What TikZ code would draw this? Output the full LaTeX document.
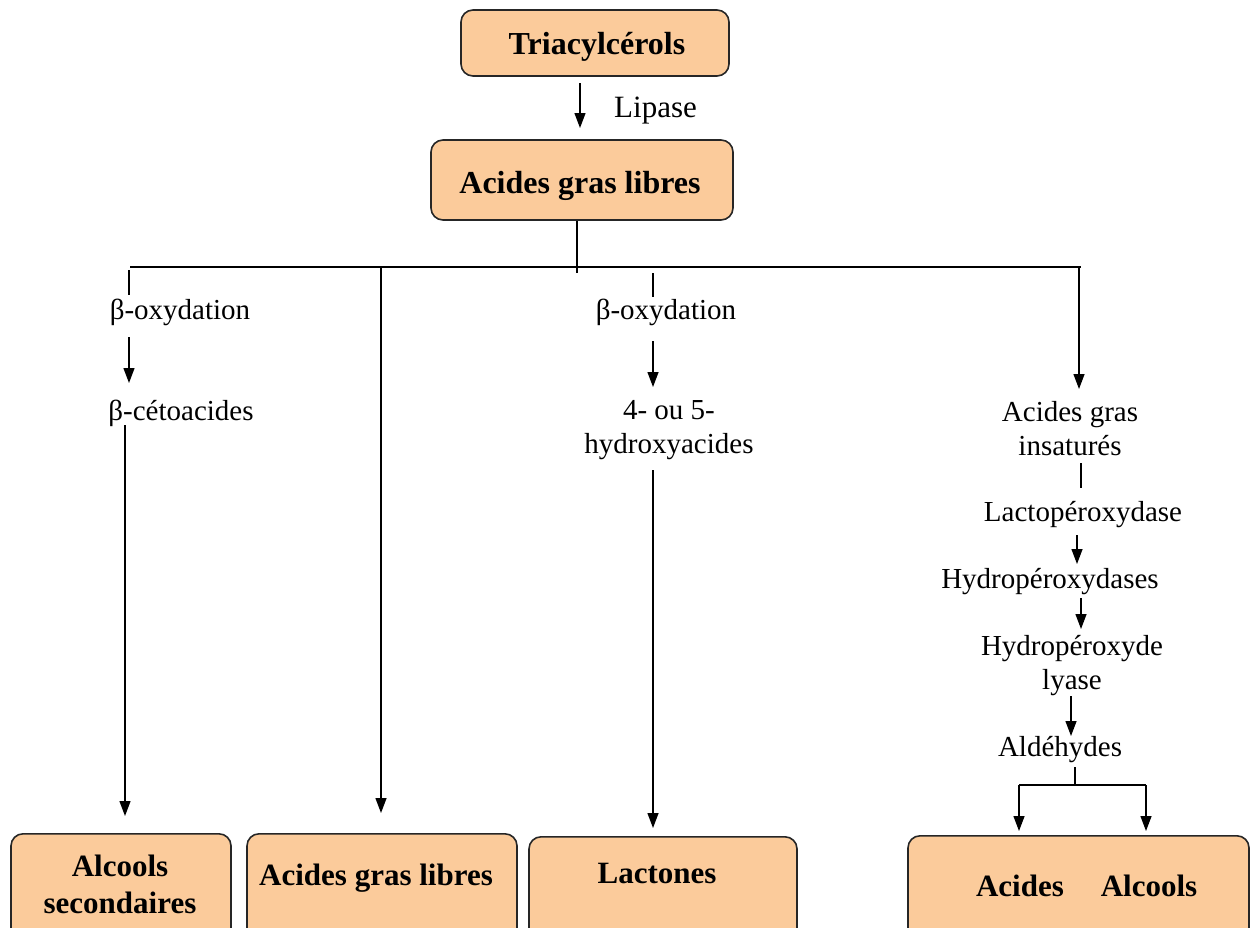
\documentclass[tikz,border=0pt]{standalone}
\usepackage{fontspec}
\setmainfont{Liberation Serif}
\usetikzlibrary{arrows.meta}
\definecolor{boxfill}{HTML}{FBCB9B}
\begin{document}
\begin{tikzpicture}[x=1pt,y=-1pt,
  box/.style={draw=black!85, line width=1.6pt, fill=boxfill, rounded corners=12pt, inner sep=0pt},
  lbl/.style={font=\fontsize{29}{34}\selectfont, inner sep=0pt, align=center},
  bl/.style={font=\fontsize{31}{37}\selectfont\bfseries, inner sep=0pt, align=center},
  ln/.style={line width=1.3pt},
  arr/.style={ln, -{Triangle[width=11pt,length=15pt]}}]
\clip (0,0) rectangle (1252,927);
% top boxes
\node[box, minimum width=268pt, minimum height=66pt] (tri) at (595,43) {};
\node[bl, font=\fontsize{32}{37}\selectfont\bfseries] (tritxt) at (597,47) {Triacylcérols};
\node[box, minimum width=302pt, minimum height=80pt] (agl) at (582,180) {};
\node[bl, font=\fontsize{32}{37}\selectfont\bfseries] (agltxt) at (580,186) {Acides gras libres};
\coordinate (lipA) at (580,83);
\coordinate (lipB) at (580,128);
\draw[arr] (lipA) -- (lipB);
\node[lbl, font=\fontsize{31}{36}\selectfont, anchor=west] (lip) at (614,111) {Lipase};
% trunk
\coordinate (trA) at (577,221);
\coordinate (trB) at (577,273);
\draw[ln] (trA) -- (trB);
\coordinate (hL) at (130,267);
\coordinate (hR) at (1081,267);
\draw[ln] (hL) -- (hR);
% branch 1
\coordinate (b1a) at (129,270);
\coordinate (b1b) at (129,295);
\draw[ln] (b1a) -- (b1b);
\node[lbl] (box1) at (180,312) {β-oxydation};
\coordinate (b1c) at (129,337);
\coordinate (b1d) at (129,383);
\draw[arr] (b1c) -- (b1d);
\node[lbl] (ceto) at (181,413) {β-cétoacides};
\coordinate (b1e) at (125,425);
\coordinate (b1f) at (125,816);
\draw[arr] (b1e) -- (b1f);
% branch 2
\coordinate (b2a) at (381,267);
\coordinate (b2b) at (381,813);
\draw[arr] (b2a) -- (b2b);
% branch 3
\coordinate (b3a) at (653,273);
\coordinate (b3b) at (653,297);
\draw[ln] (b3a) -- (b3b);
\node[lbl] (box3) at (666,312) {β-oxydation};
\coordinate (b3c) at (653,341);
\coordinate (b3d) at (653,387);
\draw[arr] (b3c) -- (b3d);
\node[lbl] (hydx) at (669,430) {4- ou 5-\\hydroxyacides};
\coordinate (b3e) at (653,470);
\coordinate (b3f) at (653,828);
\draw[arr] (b3e) -- (b3f);
% branch 4
\coordinate (b4a) at (1079,267);
\coordinate (b4b) at (1079,389);
\draw[arr] (b4a) -- (b4b);
\node[lbl] (agi) at (1070,429) {Acides gras\\insaturés};
\coordinate (b4c) at (1081,463);
\coordinate (b4d) at (1081,488);
\draw[ln] (b4c) -- (b4d);
\node[lbl] (lpo) at (1083,515) {Lactopéroxydase};
\coordinate (b4e) at (1077,535);
\coordinate (b4f) at (1077,564);
\draw[arr] (b4e) -- (b4f);
\node[lbl] (hpo) at (1050,582) {Hydropéroxydases};
\coordinate (b4g) at (1081,598);
\coordinate (b4h) at (1081,629);
\draw[arr] (b4g) -- (b4h);
\node[lbl] (hpl) at (1072,666) {Hydropéroxyde\\lyase};
\coordinate (b4i) at (1071,696);
\coordinate (b4j) at (1071,736);
\draw[arr] (b4i) -- (b4j);
\node[lbl] (ald) at (1060,750) {Aldéhydes};
\coordinate (b4k) at (1075,767);
\coordinate (b4l) at (1075,785);
\draw[ln] (b4k) -- (b4l);
\coordinate (fL) at (1019,785);
\coordinate (fR) at (1146,785);
\draw[ln] (fL) -- (fR);
\coordinate (fL2) at (1019,831);
\coordinate (fR2) at (1146,831);
\draw[arr] (fL) -- (fL2);
\draw[arr] (fR) -- (fR2);
% bottom boxes
\node[box, minimum width=220pt, minimum height=130pt, anchor=north] (bx1) at (121,833) {};
\node[bl] (alc2) at (120,884) {Alcools\\secondaires};
\node[box, minimum width=270pt, minimum height=130pt, anchor=north] (bx2) at (382,833) {};
\node[bl] (agl2) at (376,878) {Acides gras libres};
\node[box, minimum width=268pt, minimum height=130pt, anchor=north] (bx3) at (663,836) {};
\node[bl] (lac) at (657,873) {Lactones};
\node[box, minimum width=341pt, minimum height=130pt, anchor=north] (bx4) at (1078.5,835) {};
\node[bl] (aci) at (1020,886) {Acides};
\node[bl] (alc) at (1149,886) {Alcools};
\end{tikzpicture}
\end{document}
